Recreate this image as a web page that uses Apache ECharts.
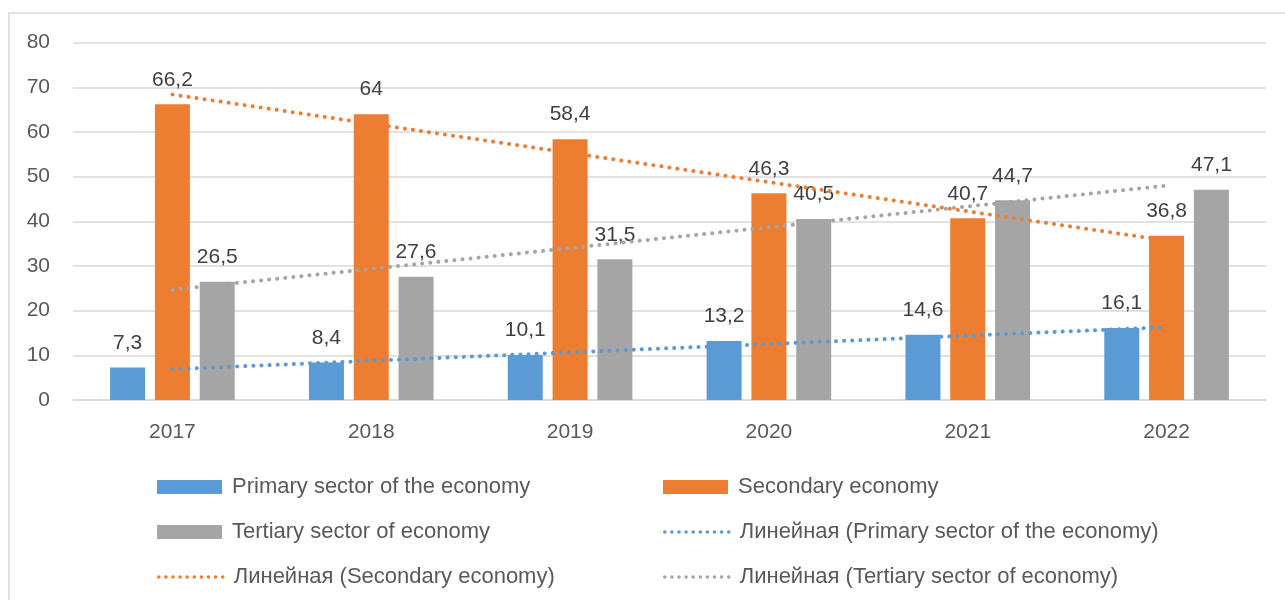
<!DOCTYPE html>
<html>
<head>
<meta charset="utf-8">
<script src="https://cdn.jsdelivr.net/npm/echarts@6/dist/echarts.min.js"></script>
<style>
  html, body { margin: 0; padding: 0; background: #fff; }
  #chart { width: 1285px; height: 600px; }
</style>
</head>
<body>
<div id="chart"></div>
<script>
// данные
const years = ['2017', '2018', '2019', '2020', '2021', '2022'];
const primary = [7.3, 8.4, 10.1, 13.2, 14.6, 16.1];
const secondary = [66.2, 64, 58.4, 46.3, 40.7, 36.8];
const tertiary = [26.5, 27.6, 31.5, 40.5, 44.7, 47.1];
// линии тренда: значения на первом и последнем году (с картинки)
const primaryTrend = [6.9, null, null, null, null, 16.3];
const secondaryTrend = [68.4, null, null, null, null, 35.7];
const tertiaryTrend = [24.7, null, null, null, null, 48.0];
const yTicks = [0, 10, 20, 30, 40, 50, 60, 70, 80];

const names = [
  'Primary sector of the economy',
  'Secondary economy',
  'Tertiary sector of economy',
  'Линейная (Primary sector of the economy)',
  'Линейная (Secondary economy)',
  'Линейная (Tertiary sector of economy)'
];
const colors = ['#5b9bd5', '#ed7d31', '#a5a5a5'];
const font = 'Liberation Sans';
const dotted = { width: 4, type: [0.1, 8], cap: 'round' };

const chart = echarts.init(document.getElementById('chart'));

const barLabel = {
  show: true,
  position: 'top',
  distance: 14,
  color: '#404040',
  fontSize: 21,
  fontFamily: font,
  formatter: p => String(p.value).replace('.', ',')
};

const bar = (name, data, color) => ({
  name, type: 'bar', data,
  barWidth: 35,
  barGap: '28%',
  itemStyle: { color },
  label: barLabel,
  z: 2
});

const trend = (name, data, color) => ({
  name, type: 'line', data,
  connectNulls: true,
  symbol: 'none',
  silent: true,
  lineStyle: Object.assign({ color }, dotted),
  itemStyle: { color },
  z: 5
});

// легенда: две колонки, три строки
const legendPos = [[157, 476], [663, 476], [157, 521], [663, 521], [157, 566], [663, 566]];
const legends = names.map((n, i) => {
  const lg = {
    data: [n],
    left: legendPos[i][0],
    top: legendPos[i][1],
    padding: 0,
    itemWidth: 65,
    itemHeight: 14,
    itemGap: 10,
    textStyle: { fontSize: 22, color: '#595959', fontFamily: font, padding: [0, 0, 0, 5] },
    selectedMode: false
  };
  if (i < 3) {
    lg.icon = 'rect';
  } else {
    lg.itemStyle = { opacity: 0 };
    lg.lineStyle = Object.assign({}, dotted, { width: 3.5, type: [0.1, 7] });
  }
  return lg;
});

chart.setOption({
  animation: false,
  color: colors,
  graphic: [{
    type: 'rect',
    shape: { x: 9, y: 13, width: 1400, height: 800 },
    style: { fill: 'none', stroke: '#d9d9d9', lineWidth: 1.5 },
    silent: true
  }],
  grid: { left: 73, right: 19, top: 42.7, bottom: 200 },
  legend: legends,
  xAxis: {
    type: 'category',
    data: years,
    axisTick: { show: false },
    axisLine: { lineStyle: { color: '#d9d9d9', width: 1.5 } },
    axisLabel: { fontSize: 21, color: '#595959', fontFamily: font, margin: 22 }
  },
  yAxis: {
    type: 'value',
    min: yTicks[0],
    max: yTicks[yTicks.length - 1],
    interval: 10,
    axisLine: { show: false },
    axisTick: { show: false },
    splitLine: { lineStyle: { color: '#d9d9d9', width: 1.5 } },
    axisLabel: { fontSize: 21, color: '#595959', fontFamily: font, margin: 23 }
  },
  series: [
    bar(names[0], primary, colors[0]),
    bar(names[1], secondary, colors[1]),
    bar(names[2], tertiary, colors[2]),
    trend(names[3], primaryTrend, colors[0]),
    trend(names[4], secondaryTrend, colors[1]),
    trend(names[5], tertiaryTrend, colors[2])
  ]
});
</script>
</body>
</html>
